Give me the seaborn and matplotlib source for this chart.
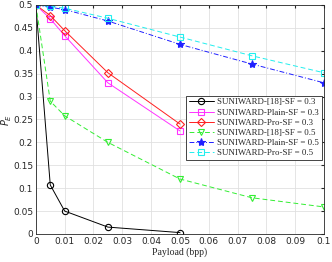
import seaborn as sns
import numpy as np
import matplotlib
matplotlib.use('Agg')
import matplotlib.pyplot as plt

# payload points (bpp)
x_short = [0, 0.005, 0.01, 0.025, 0.05]
x_long = [0, 0.005, 0.01, 0.025, 0.05, 0.075, 0.1]

# average detection error P_E
ref_03 = [0.5, 0.107, 0.05, 0.015, 0.003]
plain_03 = [0.5, 0.470, 0.433, 0.330, 0.225]
pro_03 = [0.5, 0.477, 0.444, 0.352, 0.240]
ref_05 = [0.5, 0.290, 0.258, 0.200, 0.120, 0.079, 0.059]
plain_05 = [0.5, 0.495, 0.490, 0.465, 0.414, 0.371, 0.330]
pro_05 = [0.5, 0.497, 0.493, 0.471, 0.430, 0.389, 0.352]

labels = ['SUNIWARD-[18]-SF = 0.3', 'SUNIWARD-Plain-SF = 0.3', 'SUNIWARD-Pro-SF = 0.3',
          'SUNIWARD-[18]-SF = 0.5', 'SUNIWARD-Plain-SF = 0.5', 'SUNIWARD-Pro-SF = 0.5']

sns.set_style('white')
plt.rcParams['font.family'] = ['DejaVu Sans']

fig = plt.figure(figsize=(3.32, 2.62), dpi=100)
ax = fig.add_axes([0.108, 0.107, 0.868, 0.874])

series = [
    (x_short, ref_03, 'k', 'o', '-'),
    (x_short, plain_03, '#ff33ff', 's', '-'),
    (x_short, pro_03, '#ff2020', 'D', '-'),
    (x_long, ref_05, '#33ee33', 'v', (0, (5, 3))),
    (x_long, plain_05, '#2020ff', '*', (0, (5, 2, 1, 2))),
    (x_long, pro_05, '#22eeee', 's', (0, (5, 3))),
]

for (xs, ys, c, m, ls), lab in zip(series, labels):
    sns.lineplot(x=xs, y=ys, ax=ax, color=c, marker=m, linestyle=ls, linewidth=0.7,
                 markersize=6 if m == '*' else 4.5, markerfacecolor='none' if m != '*' else c,
                 markeredgecolor=c, markeredgewidth=0.8, label=lab)

ax.set_xlim(0, 0.1)
ax.set_ylim(0, 0.5)
ax.set_xticks(np.arange(0, 0.101, 0.01))
ax.set_xticklabels(['0', '0.01', '0.02', '0.03', '0.04', '0.05', '0.06', '0.07', '0.08', '0.09', '0.1'])
ax.set_yticks(np.arange(0, 0.501, 0.05))
ax.set_yticklabels(['0', '0.05', '0.1', '0.15', '0.2', '0.25', '0.3', '0.35', '0.4', '0.45', '0.5'])
ax.tick_params(labelsize=6.5, direction='in', length=2, top=True, right=True, pad=2, colors='#262626')
ax.grid(True, color='#e0e0e0', linewidth=0.6)
for s in ax.spines.values():
    s.set_color('#262626')
    s.set_linewidth(0.6)

ax.set_xlabel('Payload (bpp)', family='Liberation Serif', fontsize=7, labelpad=1)
ax.set_ylabel(r'$\overline{P}_E$', fontsize=7)
ax.yaxis.set_label_coords(-0.075, 0.5)

leg = ax.legend(loc='lower right', bbox_to_anchor=(0.993, 0.323),
                prop={'family': 'Liberation Serif', 'size': 6.4},
                fancybox=False, framealpha=1, edgecolor='#262626',
                handlelength=2.8, handletextpad=0.4, borderpad=0.3, labelspacing=0.22,
                borderaxespad=0)
leg.get_frame().set_linewidth(0.6)

plt.savefig('out.png', dpi=100)
